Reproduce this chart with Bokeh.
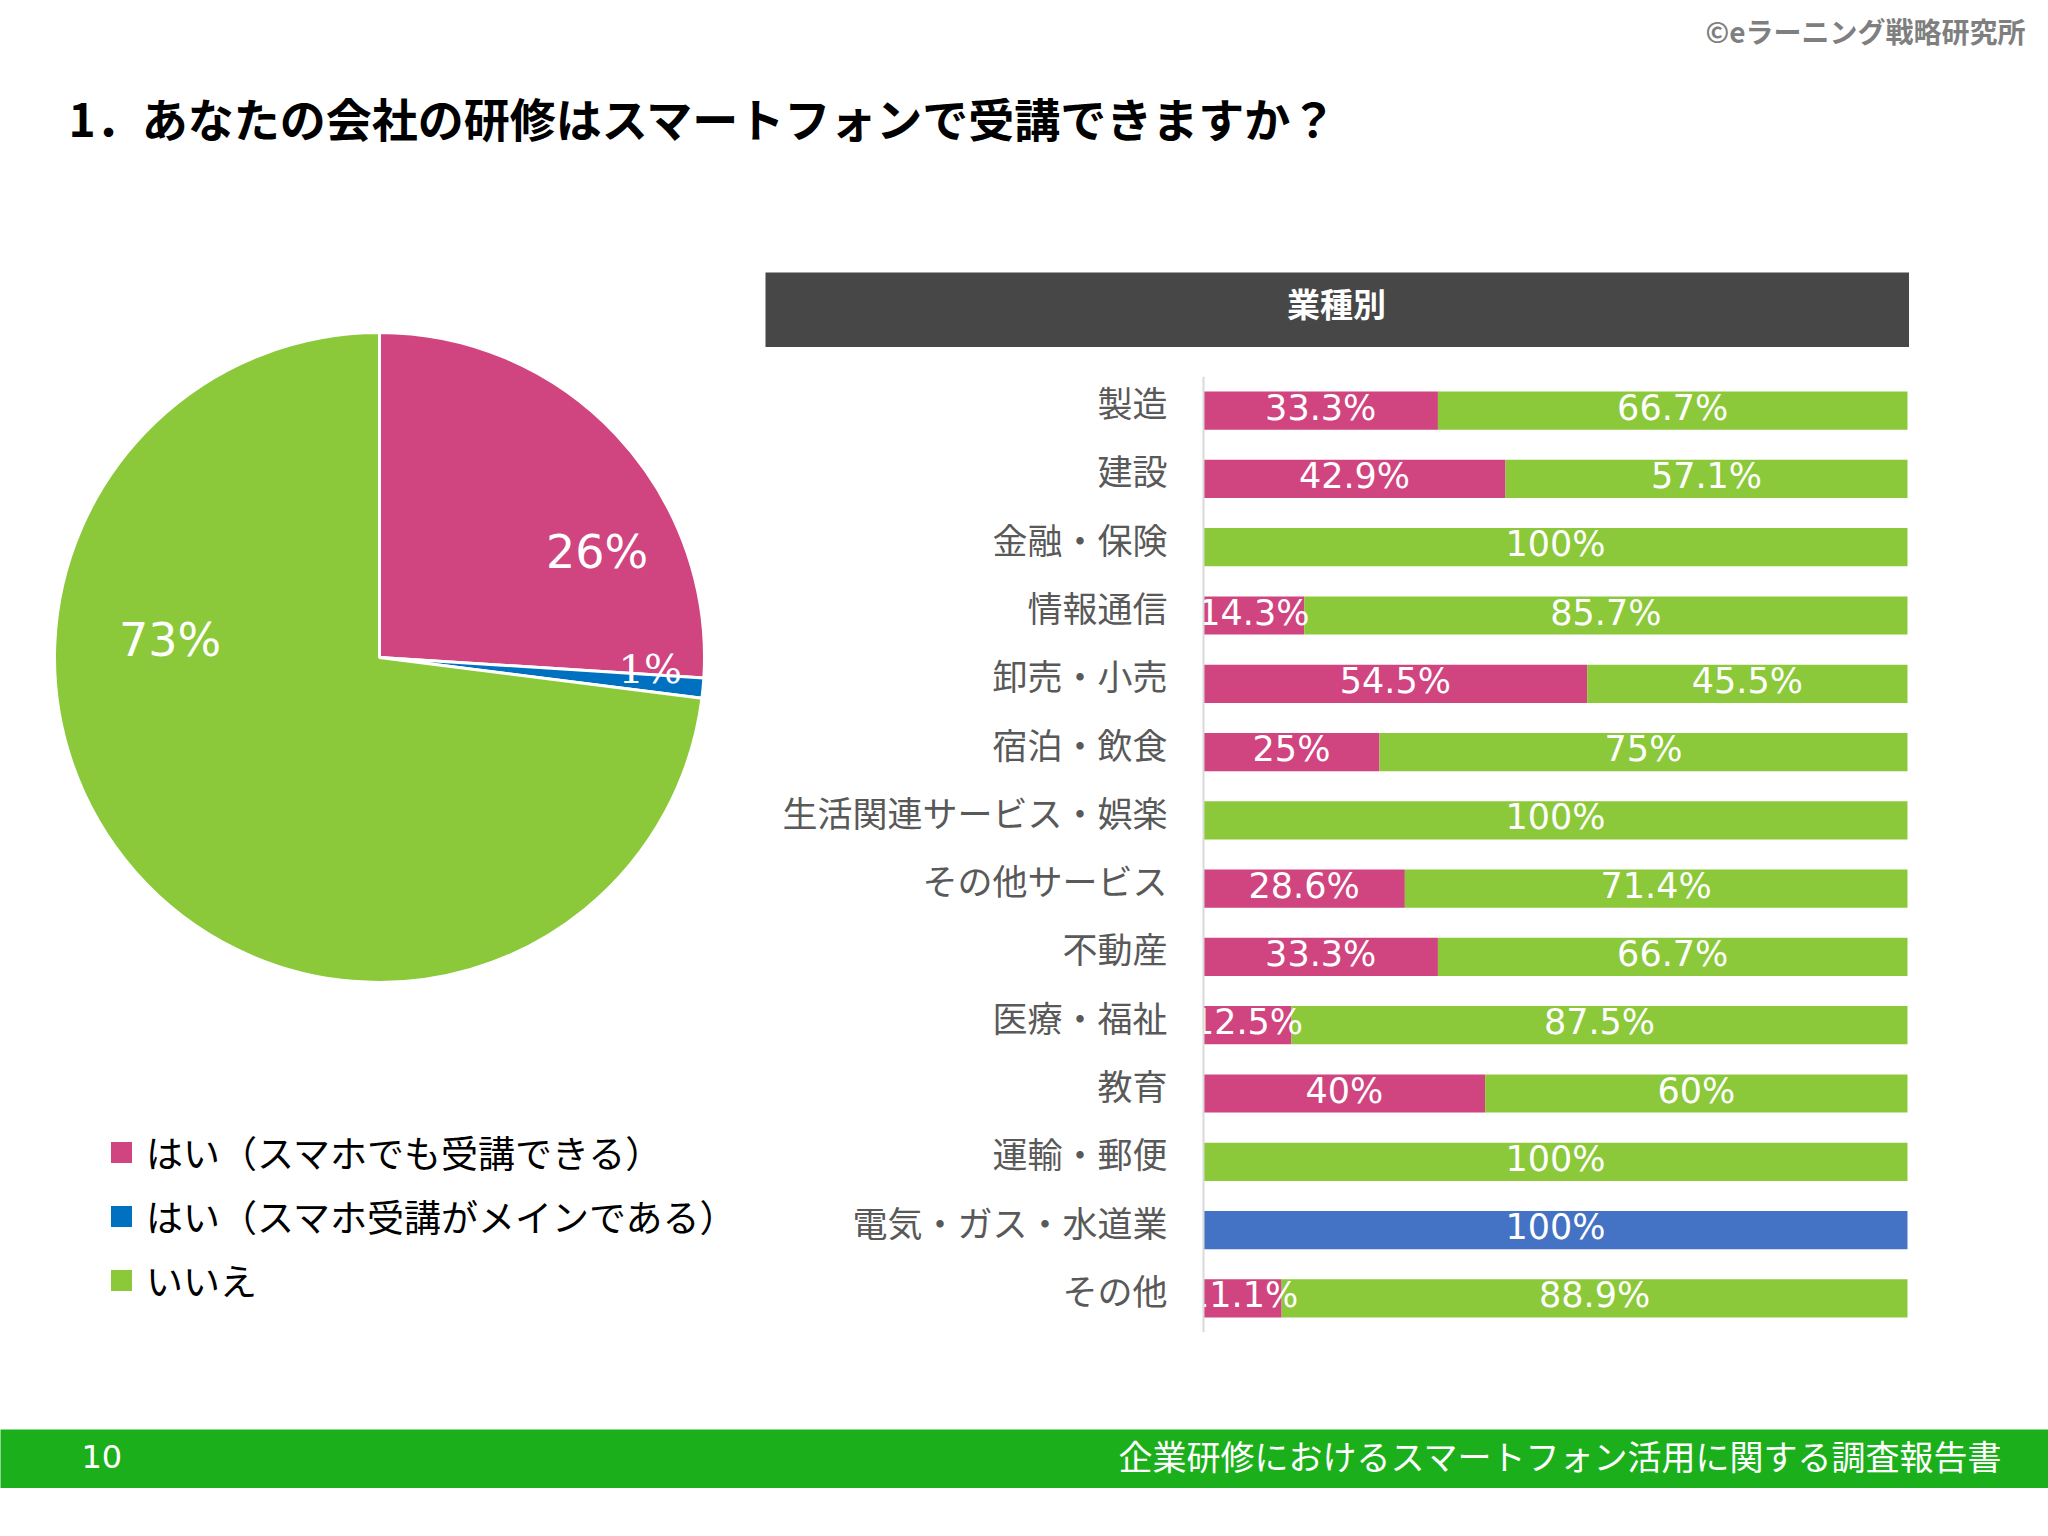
import math
from bokeh.plotting import figure
from bokeh.models import Range1d, FactorRange, ColumnDataSource, Legend, LegendItem, Span
from bokeh.layouts import column, row
from bokeh.embed import file_html
from bokeh.resources import INLINE
from bokeh.core.properties import value

# ---------------- data ----------------
TITLE = "1．あなたの会社の研修はスマートフォンで受講できますか？"
WATERMARK = "©eラーニング戦略研究所"
PANEL_TITLE = "業種別"
FOOTER_PAGE = "10"
FOOTER_TEXT = "企業研修におけるスマートフォン活用に関する調査報告書"

answers = ["はい（スマホでも受講できる）", "はい（スマホ受講がメインである）", "いいえ"]
overall = [26, 1, 73]

industries = ["製造", "建設", "金融・保険", "情報通信", "卸売・小売", "宿泊・飲食",
              "生活関連サービス・娯楽", "その他サービス", "不動産", "医療・福祉",
              "教育", "運輸・郵便", "電気・ガス・水道業", "その他"]
yes_sp = [33.3, 42.9, 0, 14.3, 54.5, 25, 0, 28.6, 33.3, 12.5, 40, 0, 0, 11.1]
yes_main = [0, 0, 0, 0, 0, 0, 0, 0, 0, 0, 0, 0, 100, 0]
no = [66.7, 57.1, 100, 85.7, 45.5, 75, 100, 71.4, 66.7, 87.5, 60, 100, 0, 88.9]

# ---------------- style ----------------
PINK = "#D0457F"
BLUE_PIE = "#0070C0"
BLUE_BAR = "#4472C4"
GREEN = "#8BC93A"
DARK = "#474747"
FOOT_GREEN = "#1BB01B"
JP = "Noto Sans CJK JP"
NUM = "DejaVu Sans"


def blank(w, h, xr, yr, bg="white"):
    p = figure(width=w, height=h, x_range=xr, y_range=yr, output_backend="svg",
               toolbar_location=None, min_border=0, background_fill_color=bg,
               border_fill_color=bg, outline_line_color=None,
               x_axis_location=None, y_axis_location=None)
    p.grid.grid_line_color = None
    return p


# ---------------- top: watermark + title ----------------
TOP_W, TOP_H = 2048, 272
top = blank(TOP_W, TOP_H, Range1d(0, TOP_W), Range1d(TOP_H, 0))
top.text(x=[2025], y=[30], text=[WATERMARK], text_align="right", text_baseline="middle",
         text_font=value(JP), text_font_style="bold", text_font_size="28px",
         text_color="#7F7F7F")
top.text(x=[68], y=[116], text=[TITLE], text_align="left", text_baseline="middle",
         text_font=value(JP), text_font_style="bold", text_font_size="46px",
         text_color="#000000")

# ---------------- pie ----------------
PIE_W, PIE_H = 765, 1157
CX, CY = 379, 385  # pie centre offset from top-left of panel
R = 325
pie = blank(PIE_W, PIE_H, Range1d(-CX, PIE_W - CX), Range1d(-(PIE_H - CY), CY))

pie_colors = [PINK, BLUE_PIE, GREEN]
total = float(sum(overall))
cum = 0.0
renderers = []
for v, c in zip(overall, pie_colors):
    a0 = math.pi / 2 - 2 * math.pi * cum / total
    cum += v
    a1 = math.pi / 2 - 2 * math.pi * cum / total
    r = pie.wedge(x=0, y=0, radius=R, start_angle=a0, end_angle=a1, direction="clock",
                  fill_color=c, line_color="white", line_width=3)
    renderers.append(r)

# label placements (angle in degrees, radius in px)
pie_label_pos = [(25.9, 242), (-2.5, 271), (175.3, 210)]
pie_label_fonts = [NUM, "DejaVu Serif", NUM]
pie_label_sizes = ["46px", "40px", "46px"]
lab = ColumnDataSource(dict(
    x=[rad * math.cos(math.radians(a)) for a, rad in pie_label_pos],
    y=[rad * math.sin(math.radians(a)) for a, rad in pie_label_pos],
    t=[f"{v}%" for v in overall],
    f=pie_label_fonts,
    s=pie_label_sizes,
))
pie.text(x="x", y="y", text="t", source=lab, text_font="f", text_font_size="s",
         text_color="white", text_align="center", text_baseline="middle")

legend = Legend(items=[LegendItem(label=a, renderers=[r]) for a, r in zip(answers, renderers)],
                location=(106, 121), glyph_width=30, glyph_height=30, label_height=56,
                spacing=8, label_standoff=10, padding=0, margin=0,
                border_line_color=None, background_fill_alpha=0,
                label_text_font=JP, label_text_font_size="37px", label_text_color="#000000")
pie.add_layout(legend)

# ---------------- header of bar panel ----------------
PANEL_W = 1144
header = blank(PANEL_W, 75, Range1d(0, PANEL_W), Range1d(75, 0), bg=DARK)
header.text(x=[571], y=[30], text=[PANEL_TITLE], text_align="center", text_baseline="middle",
            text_font=value(JP), text_font_style="bold", text_font_size="33px",
            text_color="white")

# ---------------- stacked bars ----------------
BAR_LEFT_PX, BAR_RIGHT_PX = 438, 1142   # where 0% and 100% fall inside the panel
k = (BAR_RIGHT_PX - BAR_LEFT_PX) / 100.0
x_start = -BAR_LEFT_PX / k
x_end = (PANEL_W - BAR_LEFT_PX) / k

src = ColumnDataSource(dict(cat=industries, sp=yes_sp, main=yes_main, no=no))
bars = figure(width=PANEL_W, height=1082, output_backend="svg", toolbar_location=None,
              y_range=FactorRange(factors=list(reversed(industries)), range_padding=0),
              x_range=Range1d(x_start, x_end), x_axis_location=None, y_axis_location=None,
              min_border_left=0, min_border_right=0, min_border_top=29,
              min_border_bottom=97, outline_line_color=None,
              background_fill_color="white", border_fill_color="white")
bars.grid.grid_line_color = None
bars.hbar_stack(["sp", "main", "no"], y="cat", height=0.56, source=src,
                color=[PINK, BLUE_BAR, GREEN], line_color=None)

bars.add_layout(Span(location=0, dimension="height", line_color="#D9D9D9", line_width=2))

# category labels
bars.text(x=[0] * len(industries), y=industries, text=industries, x_offset=-36, y_offset=-9,
          text_align="right", text_baseline="middle", text_font=value(JP),
          text_font_size="35px", text_color="#595959")

lx, ly, lt = [], [], []
for cat, a, b, c in zip(industries, yes_sp, yes_main, no):
    start = 0.0
    for v in (a, b, c):
        if v > 0:
            lx.append(start + v / 2)
            ly.append(cat)
            lt.append(f"{v:g}%")
        start += v
bars.text(x=lx, y=ly, text=lt, y_offset=-3, text_align="center", text_baseline="middle",
          text_font=value(NUM), text_font_size="35px", text_color="white")

# ---------------- footer ----------------
footer = blank(2048, 59, Range1d(0, 2048), Range1d(59, 0), bg=FOOT_GREEN)
footer.text(x=[81], y=[27], text=[FOOTER_PAGE], text_align="left", text_baseline="middle",
            text_font=value(NUM), text_font_size="32px", text_color="white")
footer.text(x=[2002], y=[26], text=[FOOTER_TEXT], text_align="right", text_baseline="middle",
            text_font=value(JP), text_font_size="34px", text_color="white")

page = column(top, row(pie, column(header, bars, spacing=0), spacing=0), footer, spacing=0)

open("out.html", "w").write(file_html(page, INLINE))
